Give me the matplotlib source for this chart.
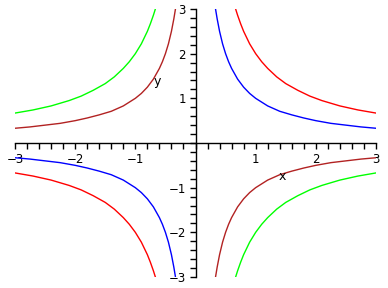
import matplotlib
matplotlib.use("Agg")
import matplotlib.pyplot as plt
from matplotlib.ticker import MultipleLocator, FixedLocator

# Positive-x branch of y = 1/x (blue)
blue_x = [0.333, 0.36, 0.4, 0.45, 0.5, 0.55, 0.6, 0.7, 0.8, 0.9, 1.0, 1.2, 1.4, 1.6, 1.8, 2.0, 2.25, 2.5, 2.75, 3.0]
blue_y = [3.0, 2.78, 2.5, 2.22, 2.0, 1.82, 1.67, 1.43, 1.25, 1.11, 1.0, 0.83, 0.71, 0.63, 0.56, 0.5, 0.44, 0.4, 0.36, 0.33]
# Positive-x branch of y = 2/x (red)
red_x = [0.667, 0.7, 0.75, 0.8, 0.9, 1.0, 1.1, 1.2, 1.35, 1.5, 1.7, 1.9, 2.1, 2.4, 2.7, 3.0]
red_y = [3.0, 2.86, 2.67, 2.5, 2.22, 2.0, 1.82, 1.67, 1.48, 1.33, 1.18, 1.05, 0.95, 0.83, 0.74, 0.67]

xticks = [-3, -2, -1, 1, 2, 3]
yticks = [-3, -2, -1, 1, 2, 3]

fig = plt.figure(figsize=(3.88, 2.88), dpi=100)
ax = fig.add_axes([15/388, 11/288, 361/388, 268/288])
ax.set_xlim(-3, 3)
ax.set_ylim(-3, 3)

def branches(xs, ys, sx, color):
    # two symmetric branches: (sx*x, y) and (-sx*x, -y)
    ax.plot([sx * v for v in xs], ys, color=color, lw=1)
    ax.plot([-sx * v for v in xs], [-v for v in ys], color=color, lw=1)

branches(blue_x, blue_y, 1, "#0000FF")
branches(red_x, red_y, 1, "#FF0000")
branches(blue_x, blue_y, -1, "#B22222")
branches(red_x, red_y, -1, "#00FF00")

for s in ["top", "right"]:
    ax.spines[s].set_visible(False)
ax.spines["left"].set_position(("data", 0))
ax.spines["bottom"].set_position(("data", 0))
for s in ["left", "bottom"]:
    ax.spines[s].set_linewidth(1)

ax.xaxis.set_major_locator(FixedLocator(xticks))
ax.yaxis.set_major_locator(FixedLocator(yticks))
ax.xaxis.set_minor_locator(MultipleLocator(0.2))
ax.yaxis.set_minor_locator(MultipleLocator(0.2))
ax.set_xticklabels([str(v).replace("-", "\u2212") for v in xticks])
ax.set_yticklabels([str(v).replace("-", "\u2212") for v in yticks])
ax.tick_params(which="both", direction="out", length=4, width=1, labelsize=8.5, pad=3)

ax.text(1.45, -0.75, "x", fontsize=9, ha="center", va="center")
ax.text(-0.63, 1.38, "y", fontsize=9, ha="center", va="center")

for lab in ax.get_xticklabels() + ax.get_yticklabels():
    lab.set_clip_on(False)

fig.savefig("out.png", dpi=100)
